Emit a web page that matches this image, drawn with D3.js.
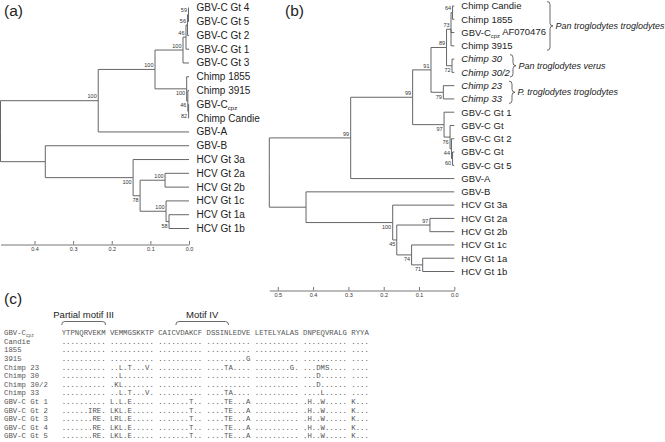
<!DOCTYPE html>
<html><head><meta charset="utf-8">
<script src="https://cdn.jsdelivr.net/npm/d3@7"></script>
<style>
body{margin:0;background:#fff}
svg{display:block}
text{font-family:"Liberation Sans",Arial,Helvetica,sans-serif;fill:#222}
.mono{font-family:"Liberation Mono","Courier New",monospace;fill:#555}
</style></head><body>
<svg id="svg" width="665" height="442"></svg>
<script>
function leaf(name){ return {name:name}; }
function node(id, h, boot, kids){ return {id:id, h:h, boot:boot, children:kids}; }

// (a) node heights on the 0.0-0.4 scale, bootstrap at nodes; "A|b" = A with subscript b
var treeA = node("root",0.488,null,[
  node("a1",0.235,100,[
    node("a2",0.088,100,[
      node("gbvc",0.0155,100,[
        node("g46",0.0078,46,[
          node("g56",0.004,56,[
            node("g59",0.0013,59,[leaf("GBV-C Gt 4"),leaf("GBV-C Gt 5")]),
            leaf("GBV-C Gt 2")]),
          leaf("GBV-C Gt 1")]),
        leaf("GBV-C Gt 3")]),
      node("cpz",0.006,100,[
        leaf("Chimp 1855"),
        node("c46",0.003,46,[
          leaf("Chimp 3915"),
          node("c82",0.001,82,[leaf("GBV-C|cpz"),leaf("Chimp Candie")])])])]),
    leaf("GBV-A")]),
  node("b",0.372,null,[
    leaf("GBV-B"),
    node("hcv",0.1447,100,[
      leaf("HCV Gt 3a"),
      node("h78",0.1266,78,[
        node("h2",0.062,100,[leaf("HCV Gt 2a"),leaf("HCV Gt 2b")]),
        node("h1",0.0594,100,[
          leaf("HCV Gt 1c"),
          node("h58",0.0517,58,[leaf("HCV Gt 1a"),leaf("HCV Gt 1b")])])])])])]);
var belowA = ["cpz","c46","c82","hcv","h78","h58"];
var ticksA = [0.4,0.3,0.2,0.1,0.0];

// (b)
var treeB = node("root",0.524,null,[
  node("u1",0.2935,99,[
    node("u2",0.118,99,[
      node("c",0.066,91,[
        node("p",0.022,89,[
          node("t",0.0093,73,[
            node("cc",0.005,64,[leaf("Chimp Candie"),leaf("Chimp 1855")]),
            leaf("GBV-C|cpz| AF070476"),
            leaf("Chimp 3915")]),
          node("v",0.0065,72,[leaf("Chimp 30"),leaf("Chimp 30/2")])]),
        node("q",0.031,79,[leaf("Chimp 23"),leaf("Chimp 33")])]),
      node("g",0.029,97,[
        leaf("GBV-C Gt 1"),
        node("g76",0.012,76,[
          leaf("GBV-C Gt"),
          node("g44",0.008,44,[
            leaf("GBV-C Gt 2"),
            node("g60",0.005,60,[leaf("GBV-C Gt"),leaf("GBV-C Gt 5")])])])])]),
    leaf("GBV-A")]),
  node("b",0.42,null,[
    leaf("GBV-B"),
    node("hcv",0.1745,100,[
      leaf("HCV Gt 3a"),
      node("h45",0.163,45,[
        node("h2",0.069,97,[leaf("HCV Gt 2a"),leaf("HCV Gt 2b")]),
        node("h1",0.121,74,[
          leaf("HCV Gt 1c"),
          node("h71",0.0895,71,[leaf("HCV Gt 1a"),leaf("HCV Gt 1b")])])])])])]);
var belowB = ["v","q","g","g76","g44","g60","hcv","h45","h1","h71"];
var italicB = ["Chimp 30","Chimp 30/2","Chimp 23","Chimp 33"];
var ticksB = [0.5,0.4,0.3,0.2,0.1,0.0];
var groupsB = [
  {label:"Pan troglodytes troglodytes", from:0, to:3},
  {label:"Pan troglodytes verus", from:4, to:5},
  {label:"P. troglodytes troglodytes", from:6, to:7}];

// (c) alignment
var alnNames = ["GBV-C|cpz","Candie","1855","3915","Chimp 23","Chimp 30","Chimp 30/2","Chimp 33",
  "GBV-C Gt 1","GBV-C Gt 2","GBV-C Gt 3","GBV-C Gt 4","GBV-C Gt 5"];
var alnSeqs = [
  "YTPNQRVEKM VEMMGSKKTP CAICVDAKCF DSSINLEDVE LETELYALAS DNPEQVRALG RYYA",
  ".......... .......... .......... .......... .......... .......... ....",
  ".......... .......... .......... .......... .......... .......... ....",
  ".......... .......... .......... .........G .......... .......... ....",
  ".......... ..L.T...V. .......... ....TA.... ........G. ...DMS.... ....",
  ".......... ..L....... .......... .......... .......... ...D...... ....",
  ".......... .KL....... .......... .......... .......... ...D...... ....",
  ".......... ..L.T...V. .......... ....TA.... .......... ....L..... ....",
  ".......... L.L.E..... .......T.. ....TE...A .......... .H..W..... K...",
  "......IRE. LKL.E..... .......T.. ....TE...A .......... .H..W..... K...",
  ".......RE. LRL.E..... .......T.. ....TE...A .......... .H..W..... K...",
  ".......RE. LKL.E..... .......T.. ....TE...A .......... .H..W..... K...",
  ".......RE. LKL.E..... .......T.. ....TE...A .......... .H..W..... K..."];
var motifs = [{label:"Partial motif III", from:0, to:9},{label:"Motif IV", from:26, to:37}];

var svg = d3.select("#svg");

function addName(sel, name){
  var parts = name.split("|");
  sel.append("tspan").text(parts[0]);
  if (parts.length > 1) {
    sel.append("tspan").attr("dy","0.3em").style("font-size","0.62em").text(parts[1]);
    if (parts.length > 2) sel.append("tspan").attr("dy","-0.3em").text(parts[2]);
  }
}

function drawTree(t, o){
  var g = svg.append("g");
  var root = d3.hierarchy(t);
  var leaves = root.leaves();
  var x = d3.scaleLinear().domain([t.h, 0]).range([o.xRoot, o.xTip]);
  var y = d3.scaleLinear().domain([0, leaves.length-1]).range([o.yTop, o.yBottom]);
  leaves.forEach(function(d,i){ d.y = y(i); });
  root.eachAfter(function(d){
    if (d.children) d.y = (d.children[0].y + d.children[d.children.length-1].y)/2;
    d.x = x(d.data.h || 0);
  });
  g.selectAll("path.link").data(root.links()).enter().append("path")
    .attr("class","link")
    .attr("d", function(l){ return "M"+l.source.x+","+l.source.y+"V"+l.target.y+"H"+l.target.x; })
    .attr("fill","none").attr("stroke","#555").attr("stroke-width",0.9);
  g.selectAll("text.leaf").data(leaves).enter().append("text")
    .attr("class","leaf")
    .attr("x", function(d){ return d.x + o.gap; })
    .attr("y", function(d){ return d.y; })
    .attr("dy","0.35em")
    .style("font-size", o.fs+"px")
    .style("font-style", function(d){ return (o.italic||[]).indexOf(d.data.name) >= 0 ? "italic" : null; })
    .each(function(d){ addName(d3.select(this), d.data.name); });
  g.selectAll("text.boot").data(root.descendants().filter(function(d){ return d.data.boot != null; }))
    .enter().append("text").attr("class","boot")
    .attr("x", function(d){ return d.x - 1.5; })
    .attr("y", function(d){ return o.below.indexOf(d.data.id) >= 0 ? d.y + 6.5 : d.y - 2.2; })
    .attr("text-anchor","end").style("font-size","5.5px").style("fill","#333")
    .text(function(d){ return d.data.boot; });
  var axis = d3.axisBottom(x).tickValues(o.ticks).tickFormat(d3.format(".1f"))
    .tickSizeInner(-3.5).tickSizeOuter(0).tickPadding(3);
  var ax = g.append("g").attr("transform","translate(0,"+o.axisY+")").call(axis);
  ax.selectAll("path,line").attr("stroke","#666").attr("stroke-width",0.9);
  ax.selectAll("text").style("font-size","5.5px").style("fill","#333")
    .style("font-family","Liberation Sans, Arial, sans-serif");
  return {leaves:leaves, x:x};
}

drawTree(treeA, {xRoot:0.5, xTip:189, yTop:7.8, yBottom:228.5, gap:7.5, fs:10,
  below:belowA, ticks:ticksA, axisY:244.5});
var tb = drawTree(treeB, {xRoot:269.3, xTip:454.3, yTop:6, yBottom:271.5, gap:7, fs:9.5,
  below:belowB, italic:italicB, ticks:ticksB, axisY:290.5});

// species braces in (b)
function brace(x, y1, y2, w){
  var m = (y1+y2)/2, r = Math.min(3, (y2-y1)/4), h = x + w/2;
  return "M"+x+","+y1+"Q"+h+","+y1+" "+h+","+(y1+r)+"V"+(m-r)+"Q"+h+","+m+" "+(x+w)+","+m+
    "Q"+h+","+m+" "+h+","+(m+r)+"V"+(y2-r)+"Q"+h+","+y2+" "+x+","+y2;
}
var braceX = [547, 510, 509];
groupsB.forEach(function(gr, i){
  var y1 = tb.leaves[gr.from].y - 4.5, y2 = tb.leaves[gr.to].y + 4.5;
  svg.append("path").attr("d", brace(braceX[i], y1, y2, 6))
    .attr("fill","none").attr("stroke","#444").attr("stroke-width",0.8);
  svg.append("text").attr("x", braceX[i] + 8.5).attr("y",(y1+y2)/2).attr("dy","0.35em")
    .style("font-size","9px").style("font-style","italic").text(gr.label);
});

// panel letters
[["(a)",4,10.5],["(b)",285,10.5],["(c)",4,299]].forEach(function(p){
  svg.append("text").attr("x",p[1]).attr("y",p[2]).attr("dy","0.35em")
    .style("font-size","15.5px").text(p[0]);
});

// (c) alignment
var cw = 4.39, seqX = 61.7, rowY0 = 332.7, rowDy = 8.6;
var col = d3.scaleLinear().domain([0,1]).range([seqX, seqX+cw]);
var rowY = d3.scaleLinear().domain([0,1]).range([rowY0, rowY0+rowDy]);
var ag = svg.append("g");
ag.selectAll("text.nm").data(alnNames).enter().append("text").attr("class","mono nm")
  .attr("x",4).attr("y",function(d,i){ return rowY(i); }).attr("dy","0.35em")
  .style("font-size","7.3px").style("white-space","pre")
  .each(function(d){ addName(d3.select(this), d); });
ag.selectAll("text.sq").data(alnSeqs).enter().append("text").attr("class","mono sq")
  .attr("x",seqX).attr("y",function(d,i){ return rowY(i); }).attr("dy","0.35em")
  .style("font-size","7.32px").style("white-space","pre")
  .text(function(d){ return d; });
motifs.forEach(function(m){
  var x1 = col(m.from), x2 = col(m.to+1), yb = 321.5;
  ag.append("path").attr("d","M"+x1+","+(yb+3.5)+"Q"+x1+","+yb+" "+(x1+3)+","+yb+"H"+(x2-3)+"Q"+x2+","+yb+" "+x2+","+(yb+3.5))
    .attr("fill","none").attr("stroke","#444").attr("stroke-width",0.8);
  ag.append("text").attr("x",(x1+x2)/2).attr("y",314.5).attr("dy","0.35em")
    .attr("text-anchor","middle").style("font-size","9.5px").text(m.label);
});
</script>
</body></html>
